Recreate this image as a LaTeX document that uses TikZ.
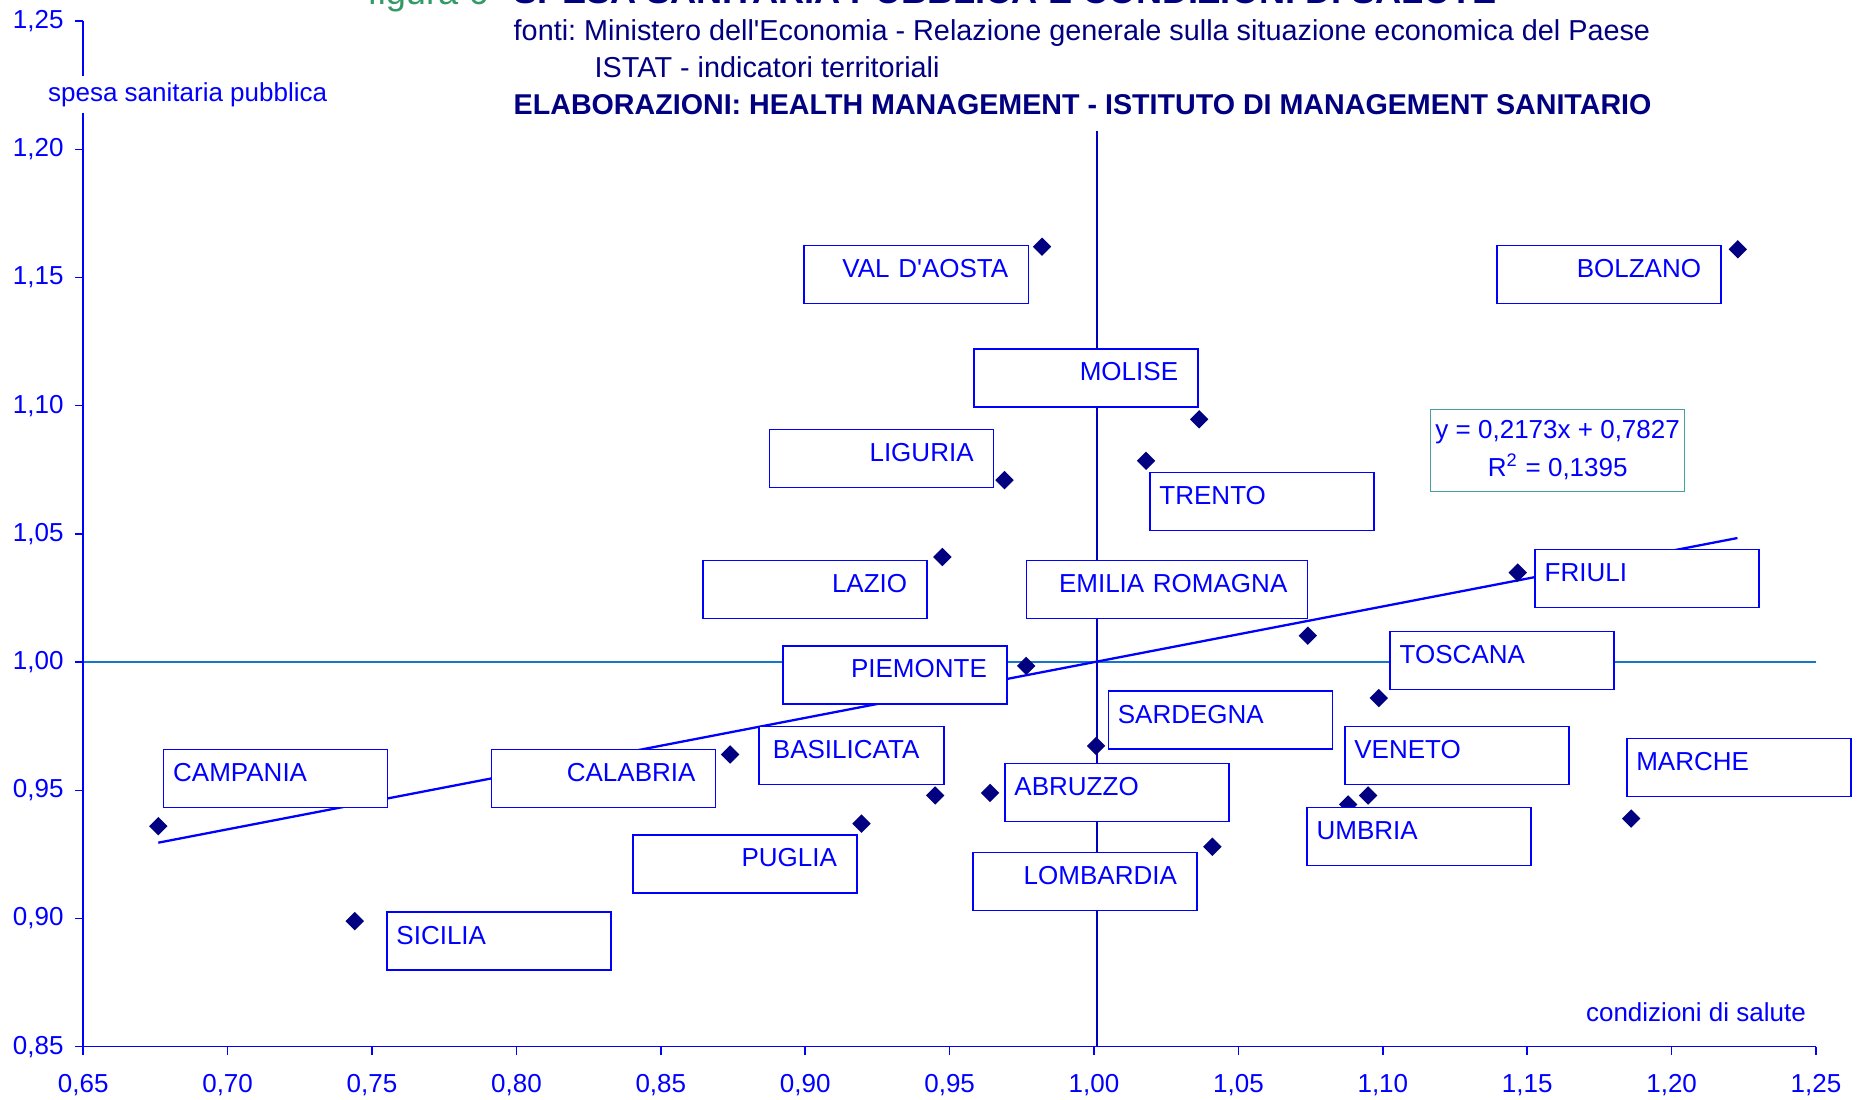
\documentclass[tikz,border=0pt]{standalone}
\usepackage{fontspec}
\setmainfont{Liberation Sans}
\usetikzlibrary{shapes.geometric,positioning}

\definecolor{chartblue}{RGB}{0,0,255}
\definecolor{navyblue}{RGB}{0,0,128}
\definecolor{refblue}{RGB}{20,120,200}
\definecolor{midblue}{RGB}{0,0,190}
\definecolor{figgreen}{RGB}{51,153,102}
\definecolor{eqteal}{RGB}{70,160,160}
\newcommand\chartfont{\fontsize{7.4}{8.9}\selectfont}
\frenchspacing

\begin{document}
\begin{tikzpicture}[
  lbl/.style={draw=chartblue, fill=white, line width=0.43pt, text=chartblue, font=\chartfont,
    inner ysep=0pt, text height=0.32cm, text depth=0.26cm, anchor=north west},
  lblL/.style={lbl, inner xsep=0.095cm, text width=2.05cm, align=left},
  lblR/.style={lbl, inner xsep=0.2cm, text width=1.84cm, align=right},
  pt/.style={diamond, fill=navyblue, inner sep=0pt, minimum size=0.19cm},
  ticklbl/.style={font=\chartfont, text=chartblue, inner sep=0pt},
  axisline/.style={chartblue, line width=0.43pt},
  headline/.style={anchor=base west, inner sep=0pt, text=navyblue}]
  \useasboundingbox (0,0) rectangle (18.63,10.99);

  % headings
  \node[headline, text=figgreen, font=\fontsize{10.3}{12}\selectfont] (fig) at (3.67,10.94) {figura 6};
  \node[headline, font=\fontsize{10.3}{12}\selectfont\bfseries] (title) at (5.13,10.95) {SPESA SANITARIA PUBBLICA E CONDIZIONI DI SALUTE};
  \node[headline, font=\fontsize{8.2}{10}\selectfont] (src1) at (5.13,10.58) {fonti: Ministero dell\textquotesingle Economia - Relazione generale sulla situazione economica del Paese};
  \node[headline, font=\fontsize{8.2}{10}\selectfont] (src2) at (5.94,10.21) {ISTAT - indicatori territoriali};
  \node[headline, font=\fontsize{8.15}{10}\selectfont\bfseries] (elab) at (5.13,9.84) {ELABORAZIONI: HEALTH MANAGEMENT - ISTITUTO DI MANAGEMENT SANITARIO};

  \begin{scope}[shift={(0.832,0.523)}, x=28.88cm, y=25.64cm, shift={(-0.65,-0.85)}]
    \coordinate (o) at (0.65,0.85);
    \coordinate (xend) at (1.25,0.85);
    \coordinate (yend) at (0.65,1.25);
    \coordinate (h0) at (0.65,1);
    \coordinate (h1) at (1.25,1);
    \coordinate (v0) at (1.001,0.85);
    \coordinate (v1) at (1.001,1.2073);
    \coordinate (t0) at (0.676,{0.2173*0.676+0.7827});
    \coordinate (t1) at (1.2228,{0.2173*1.2228+0.7827});

    % reference lines and trend
    \draw[refblue, line width=0.43pt] (h0) -- (h1);
    \draw[midblue, line width=0.43pt] (v0) -- (v1);
    \draw[chartblue, line width=0.65pt] (t0) -- (t1);

    % axes
    \draw[axisline] (yend) -- (o) -- (xend);
    \foreach \v/\t [count=\i] in {0.85/0{,}85, 0.90/0{,}90, 0.95/0{,}95, 1.00/1{,}00, 1.05/1{,}05,
                                  1.10/1{,}10, 1.15/1{,}15, 1.20/1{,}20, 1.25/1{,}25}{
      \draw[axisline] (0.65,\v) -- ++(-0.08cm,0cm);
      \node[ticklbl, left=0.19cm] (yl\i) at (0.65,\v) {\t};
    }
    \foreach \v/\t [count=\i] in {0.65/0{,}65, 0.70/0{,}70, 0.75/0{,}75, 0.80/0{,}80, 0.85/0{,}85,
                                  0.90/0{,}90, 0.95/0{,}95, 1.00/1{,}00, 1.05/1{,}05, 1.10/1{,}10,
                                  1.15/1{,}15, 1.20/1{,}20, 1.25/1{,}25}{
      \draw[axisline] (\v,0.85) -- ++(0cm,-0.08cm);
      \node[ticklbl, below=0.27cm] (xl\i) at (\v,0.85) {\t};
    }
    \node[ticklbl, anchor=west, fill=white, minimum height=0.37cm] (ylab) at (0.6376,1.2212) {spesa sanitaria pubblica};
    \node[ticklbl, anchor=east] (xlab) at (1.2467,0.8635) {condizioni di salute};

    % regions
    \foreach \n/\x/\y in {campania/0.676/0.936, sicilia/0.744/0.899, calabria/0.874/0.964,
        puglia/0.9195/0.937, basilicata/0.945/0.948, abruzzo/0.964/0.949, lazio/0.9475/1.041,
        liguria/0.969/1.071, valdaosta/0.982/1.162, piemonte/0.9765/0.9985, sardegna/1.0007/0.9673,
        molise/1.0364/1.0947, trento/1.018/1.0785, lombardia/1.041/0.928, emilia/1.074/1.0103,
        toscana/1.0986/0.986, veneto/1.0949/0.948, umbria/1.088/0.9445, friuli/1.1467/1.0349,
        bolzano/1.2229/1.161, marche/1.186/0.939}{
      \node[pt] (p-\n) at (\x,\y) {};
    }

    % data labels
    \node[lblR] (l-valdaosta) at (0.8994,1.1628) {VAL D\textquotesingle AOSTA};
    \node[lblR] (l-bolzano) at (1.1393,1.1628) {BOLZANO};
    \node[lblR] (l-molise) at (0.9582,1.1225) {MOLISE};
    \node[lblR] (l-liguria) at (0.8874,1.0910) {LIGURIA};
    \node[lblL] (l-trento) at (1.0191,1.0743) {TRENTO};
    \node[lblR] (l-lazio) at (0.8644,1.0400) {LAZIO};
    \node[lblR, text width=2.41cm] (l-emilia) at (0.9763,1.0400) {EMILIA ROMAGNA};
    \node[lblL] (l-friuli) at (1.1525,1.0442) {FRIULI};
    \node[lblL] (l-toscana) at (1.1023,1.0122) {TOSCANA};
    \node[lblR] (l-piemonte) at (0.8920,1.0066) {PIEMONTE};
    \node[lblL] (l-sardegna) at (1.0047,0.9890) {SARDEGNA};
    \node[lblL, inner xsep=0.14cm, text width=1.57cm] (l-basilicata) at (0.8837,0.9751) {BASILICATA};
    \node[lblL] (l-veneto) at (1.0866,0.9751) {VENETO};
    \node[lblL] (l-marche) at (1.1842,0.9705) {MARCHE};
    \node[lblL] (l-campania) at (0.6776,0.9663) {CAMPANIA};
    \node[lblR] (l-calabria) at (0.7911,0.9663) {CALABRIA};
    \node[lblL] (l-abruzzo) at (0.9689,0.9608) {ABRUZZO};
    \node[lblL] (l-umbria) at (1.0735,0.9436) {UMBRIA};
    \node[lblR] (l-puglia) at (0.8401,0.9329) {PUGLIA};
    \node[lblR] (l-lombardia) at (0.9578,0.9260) {LOMBARDIA};
    \node[lblL] (l-sicilia) at (0.7549,0.9028) {SICILIA};

    % regression
    \node[draw=eqteal, line width=0.43pt, anchor=north west, minimum width=2.54cm, minimum height=0.82cm,
      align=center, font=\fontsize{7.4}{10.8}\selectfont, text=chartblue, inner sep=0pt] (eq)
      at (1.1163,1.0988) {y = 0,2173x + 0,7827\\R\textsuperscript{2} = 0,1395};
  \end{scope}
\end{tikzpicture}
\end{document}
